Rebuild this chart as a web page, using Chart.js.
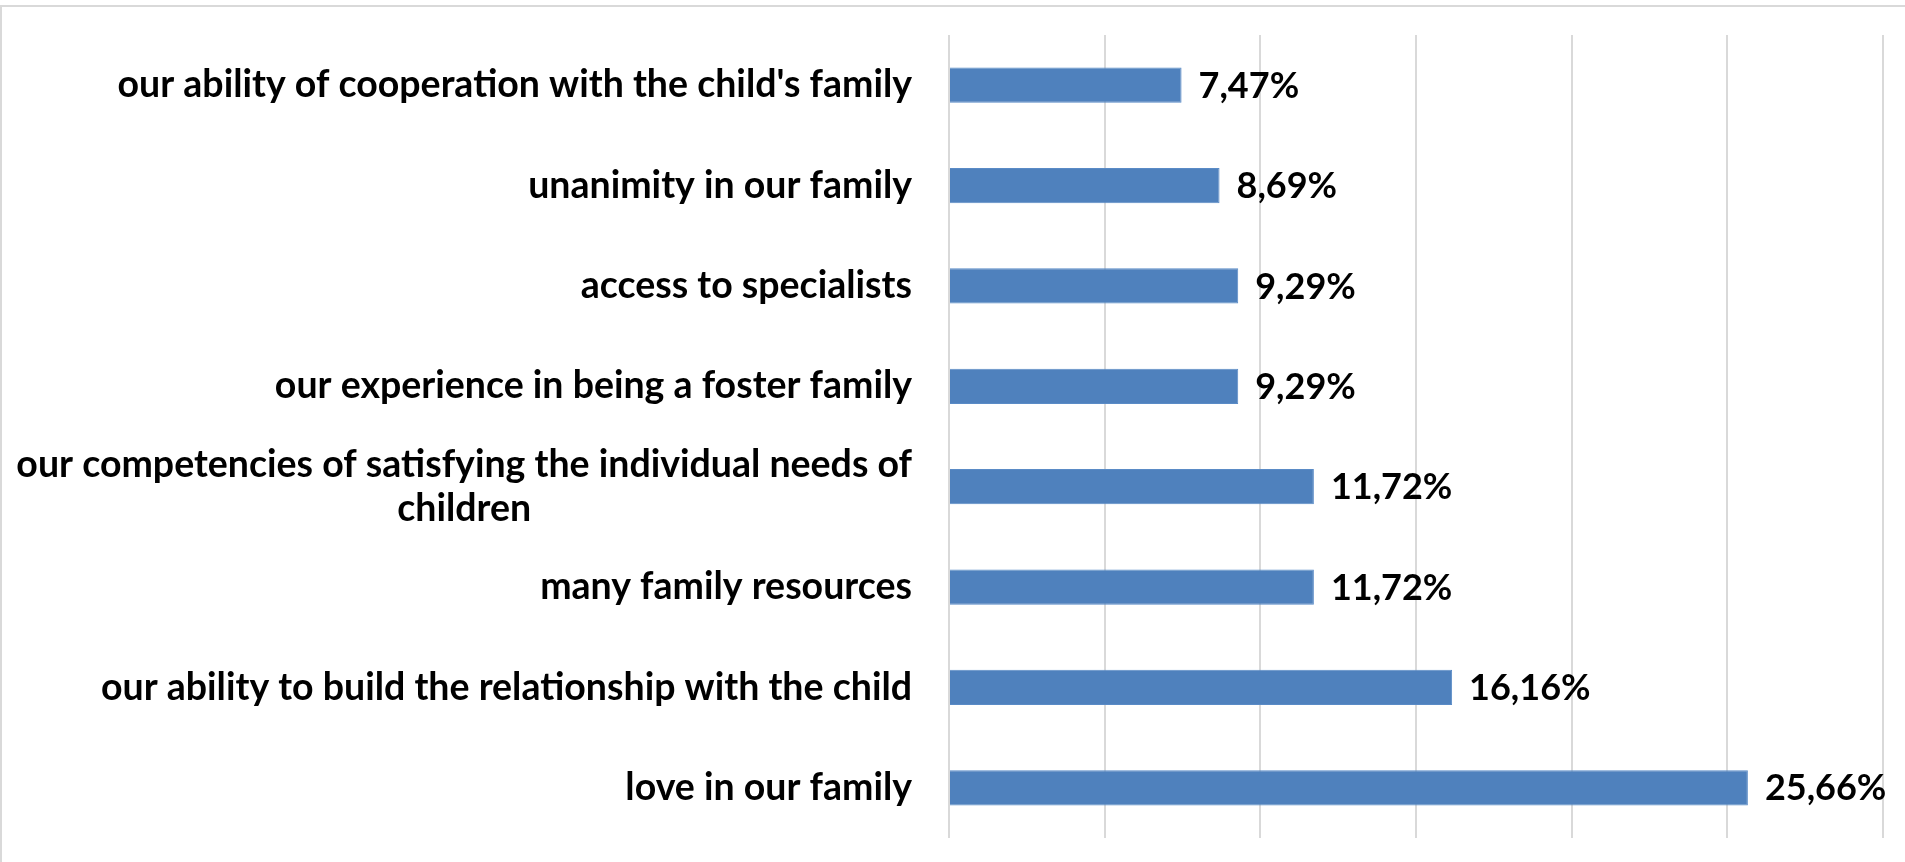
<!DOCTYPE html>
<html>
<head>
<meta charset="utf-8">
<script src="https://cdn.jsdelivr.net/npm/chart.js@4"></script>
<style>
  html, body { margin: 0; padding: 0; background: #fff; overflow: hidden; }
  #frame {
    position: absolute; left: 0; top: 5px; width: 1920px; height: 880px;
    border-top: 2px solid #d9d9d9; border-left: 2px solid #d9d9d9;
  }
  #wrap { position: absolute; left: 0; top: 0; width: 1905px; height: 862px; }
</style>
</head>
<body>
<div id="frame"></div>
<div id="wrap"><canvas id="myChart"></canvas></div>
<script>
const categories = [
    "our ability of cooperation with the child's family",
    "unanimity in our family",
    "access to specialists",
    "our experience in being a foster family",
    ["our competencies of satisfying the individual needs of", "children"],
    "many family resources",
    "our ability to build the relationship with the child",
    "love in our family"
];
const shares = [7.47, 8.69, 9.29, 9.29, 11.72, 11.72, 16.16, 25.66];
const axisTicks = [0, 5, 10, 15, 20, 25, 30];

const labelFont = 'bold 37.5px Lato';
const valueFont = 'bold 36px Lato';

// category names drawn right-aligned, wrapped lines centred on each other
const categoryLabels = {
    id: 'categoryLabels',
    afterDraw(chart) {
        const ctx = chart.ctx;
        const y = chart.scales.y;
        const right = chart.chartArea.left - 37;
        ctx.save();
        ctx.font = labelFont;
        ctx.fillStyle = '#000';
        ctx.textBaseline = 'middle';
        categories.forEach((cat, i) => {
            const lines = Array.isArray(cat) ? cat : [cat];
            const widest = Math.max(...lines.map(l => ctx.measureText(l).width));
            const mid = y.getPixelForTick(i);
            const lh = 44;
            lines.forEach((line, j) => {
                const cy = mid + (j - (lines.length - 1) / 2) * lh;
                ctx.textAlign = 'center';
                ctx.fillText(line, right - widest / 2, cy);
            });
        });
        ctx.restore();
    }
};

// value labels at the end of each bar
const valueLabels = {
    id: 'valueLabels',
    afterDatasetsDraw(chart) {
        const ctx = chart.ctx;
        const meta = chart.getDatasetMeta(0);
        ctx.save();
        ctx.font = valueFont;
        ctx.fillStyle = '#000';
        ctx.textAlign = 'left';
        ctx.textBaseline = 'middle';
        meta.data.forEach((bar, i) => {
            const txt = shares[i].toFixed(2).replace('.', ',') + '%';
            ctx.fillText(txt, bar.x + 17, bar.y + 1);
        });
        ctx.restore();
    }
};

const ctx = document.getElementById('myChart').getContext('2d');
new Chart(ctx, {
    type: 'bar',
    data: {
        labels: categories,
        datasets: [{
            data: shares,
            backgroundColor: '#4f81bd',
            borderColor: '#5a8bc6',
            borderWidth: 1,
            barPercentage: 0.35,
            categoryPercentage: 1
        }]
    },
    options: {
        indexAxis: 'y',
        responsive: true,
        maintainAspectRatio: false,
        animation: false,
        layout: { padding: { top: 35, bottom: 24, right: 22, left: 0 } },
        plugins: { legend: { display: false }, tooltip: { enabled: false } },
        scales: {
            x: {
                min: axisTicks[0],
                max: axisTicks[axisTicks.length - 1],
                afterBuildTicks: scale => { scale.ticks = axisTicks.map(v => ({ value: v })); },
                afterFit: scale => { scale.height = 0; },
                ticks: { display: false },
                border: { display: false },
                grid: { color: '#d9d9d9', lineWidth: 2, drawTicks: false }
            },
            y: {
                afterFit: scale => { scale.width = 949; },
                ticks: { display: false },
                border: { display: false },
                grid: { display: false }
            }
        }
    },
    plugins: [categoryLabels, valueLabels]
});
</script>
</body>
</html>
